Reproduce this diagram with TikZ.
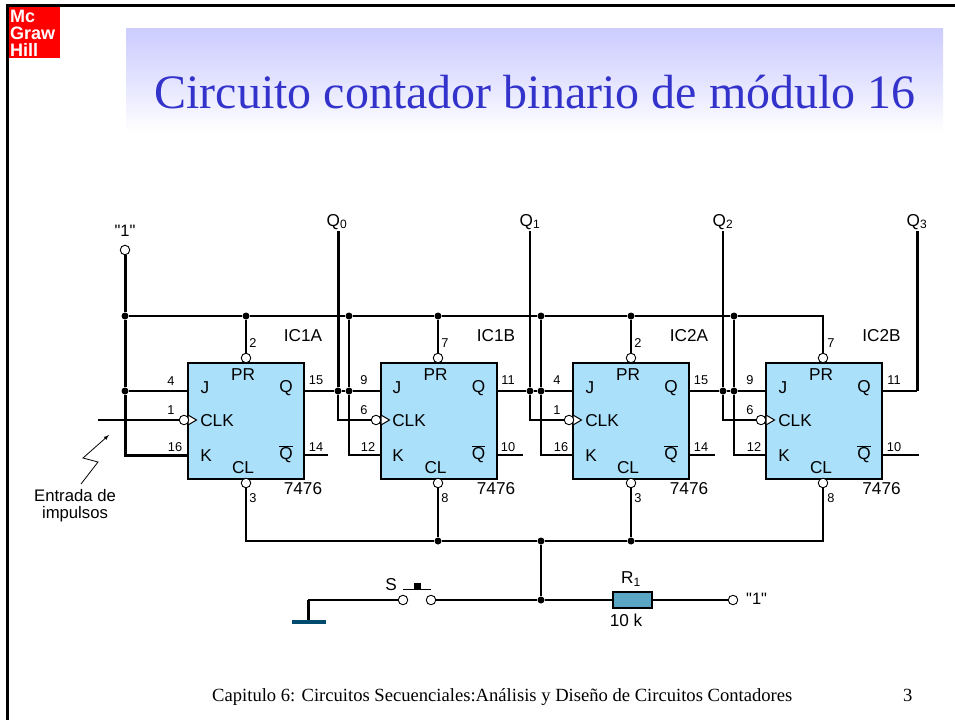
\documentclass[tikz,border=0pt]{standalone}
\usepackage{fontspec}
\setmainfont{Liberation Sans}
\newfontfamily\slidefont{Liberation Serif}
\newfontfamily\quotefont{Liberation Sans}
\newcommand{\pxfont}[1]{\fontsize{#1}{#1}\selectfont}
\definecolor{chipblue}{RGB}{170,224,250}
\definecolor{resblue}{RGB}{90,165,195}
\definecolor{gndblue}{RGB}{0,75,110}
\definecolor{bandblue}{RGB}{204,204,255}
\definecolor{titleblue}{RGB}{51,51,204}
\tikzset{
    chip/.style={draw, line width=2pt, fill=chipblue, minimum width=116pt, minimum height=116pt, inner sep=0pt, outer sep=0pt},
    wire/.style={line width=2pt},
    heavy/.style={line width=3pt},
    dot/.style={circle, fill=black, inner sep=0pt, minimum size=7pt},
    pinhole/.style={circle, draw, line width=.9pt, fill=white, inner sep=0pt, minimum size=9.5pt},
    lbl/.style={inner sep=0pt, font=\pxfont{17.2}},
    pinno/.style={inner sep=0pt, font=\pxfont{12.8}},
    clktip/.style={draw, line width=1pt, fill=white}
}
\begin{document}
\begin{tikzpicture}[x=1pt, y=-1pt]
    \useasboundingbox (0,0) rectangle (955,720);
    % slide frame, logo and title
    \fill [black] (6,4) rectangle (955,6.5);
    \fill [black] (6,4) rectangle (8.5,720);
    \fill [red] (9,6.5) rectangle (60,58);
    \node [inner sep=0pt, anchor=base west, white, font=\pxfont{18}\bfseries] (logomc) at (10,22) {Mc};
    \node [inner sep=0pt, anchor=base west, white, font=\pxfont{18}\bfseries] (logograw) at (10,39) {Graw};
    \node [inner sep=0pt, anchor=base west, white, font=\pxfont{18}\bfseries] (logohill) at (10,56) {Hill};
    \fill [top color=bandblue, bottom color=white, middle color=bandblue!55!white] (126,28) rectangle (943,132);
    \node [inner sep=0pt, titleblue, font=\slidefont\pxfont{48}] (title) at (535,92) {Circuito contador binario de módulo 16};
    \node [inner sep=0pt, anchor=base west, font=\slidefont\pxfont{18.6}] (footer) at (212,701) {Capitulo 6: Circuitos Secuenciales:Análisis y Diseño de Circuitos Contadores};
    \node [inner sep=0pt, anchor=base west, font=\slidefont\pxfont{18.6}] (pageno) at (903,701) {3};
    % flip-flops
    \node [chip] (ic1a) at (246,421) {};
    \node [chip] (ic1b) at (439,421) {};
    \node [chip] (ic2a) at (631,421) {};
    \node [chip] (ic2b) at (824,421) {};
    % clock tips
    \draw [clktip] (ic1a.west |- 0,415) -- (196.5,420) -- (ic1a.west |- 0,425) -- cycle;
    \draw [clktip] (ic1b.west |- 0,415) -- (389.5,420) -- (ic1b.west |- 0,425) -- cycle;
    \draw [clktip] (ic2a.west |- 0,415) -- (581.5,420) -- (ic2a.west |- 0,425) -- cycle;
    \draw [clktip] (ic2b.west |- 0,415) -- (774.5,420) -- (ic2b.west |- 0,425) -- cycle;
    % inverted pins
    \node [pinhole] (ic1apr) at (246,358) {};
    \node [pinhole] (ic1bpr) at (438,358) {};
    \node [pinhole] (ic2apr) at (631,358) {};
    \node [pinhole] (ic2bpr) at (823,358) {};
    \node [pinhole] (ic1acl) at (246,483) {};
    \node [pinhole] (ic1bcl) at (438,483) {};
    \node [pinhole] (ic2acl) at (631,483) {};
    \node [pinhole] (ic2bcl) at (823,483) {};
    \node [pinhole] (ic1aclk) at (184,420) {};
    \node [pinhole] (ic1bclk) at (376,420) {};
    \node [pinhole] (ic2aclk) at (569,420) {};
    \node [pinhole] (ic2bclk) at (761,420) {};
    % junctions
    \node [dot] (railone) at (125,316) {};
    \node [dot] (jone) at (125,391) {};
    \node [dot] (railpra) at (246,316) {};
    \node [dot] (railjb) at (349,316) {};
    \node [dot] (railprb) at (438,316) {};
    \node [dot] (railjc) at (541,316) {};
    \node [dot] (railprc) at (631,316) {};
    \node [dot] (railjd) at (734,316) {};
    \node [dot] (qzero) at (338,391) {};
    \node [dot] (jb) at (349,391) {};
    \node [dot] (qone) at (530,391) {};
    \node [dot] (jc) at (541,391) {};
    \node [dot] (qtwo) at (723,391) {};
    \node [dot] (jd) at (734,391) {};
    \node [dot] (clb) at (438,541) {};
    \node [dot] (clc) at (541,541) {};
    \node [dot] (cld) at (631,541) {};
    \node [dot] (swjoin) at (541,600) {};
    % free ends
    \coordinate (clkin) at (98,420);
    \coordinate (topzero) at (338,231);
    \coordinate (topone) at (530,231);
    \coordinate (toptwo) at (723,231);
    \coordinate (topthree) at (917,231);
    \coordinate (cornerthree) at (917,391);
    \coordinate (ic1ak) at (188,455);
    \coordinate (ic1bk) at (381,455);
    \coordinate (ic2ak) at (573,455);
    \coordinate (ic2bk) at (766,455);
    % rails
    \node [pinhole] (oneterm) at (125,250) {};
    \draw [heavy] (oneterm) -- (railone) -- (jone);
    \draw [heavy] (jone) |- (ic1ak);
    \draw [wire] (jone) -- (jone -| ic1a.west);
    \draw [wire] (railone) -- (railpra) -- (railjb) -- (railprb) -- (railjc) -- (railprc) -- (railjd);
    \draw [wire] (railjd) -| (ic2bpr);
    \draw [wire] (railpra) -- (ic1apr);
    \draw [wire] (railprb) -- (ic1bpr);
    \draw [wire] (railprc) -- (ic2apr);
    \draw [wire] (clkin) -- (ic1aclk);
    % first stage to second
    \draw [heavy] (topzero) -- (qzero);
    \draw [wire] (qzero) |- (ic1bclk);
    \draw [wire] (ic1a.east |- qzero) -- (qzero) -- (jb) -- (jb -| ic1b.west);
    \draw [wire] (railjb) -- (jb);
    \draw [wire] (jb) |- (ic1bk);
    \draw [wire] (ic1a.east |- ic1ak) -- (328,455);
    % second stage to third
    \draw [wire] (topone) -- (qone);
    \draw [wire] (qone) |- (ic2aclk);
    \draw [wire] (ic1b.east |- qone) -- (qone) -- (jc);
    \draw [line width=1.2pt] (jc) -- (jc -| ic2a.west);
    \draw [wire] (railjc) -- (jc);
    \draw [wire] (jc) |- (ic2ak);
    \draw [wire] (ic1b.east |- ic1bk) -- (523,455);
    % third stage to fourth
    \draw [wire] (toptwo) -- (qtwo);
    \draw [wire] (qtwo) |- (ic2bclk);
    \draw [wire] (ic2a.east |- qtwo) -- (qtwo) -- (jd) -- (jd -| ic2b.west);
    \draw [wire] (railjd) -- (jd);
    \draw [wire] (jd) |- (ic2bk);
    \draw [wire] (ic2a.east |- ic2ak) -- (715,455);
    % last stage outputs
    \draw [wire] (ic2b.east |- qtwo) -- (cornerthree);
    \draw [heavy] (cornerthree) -- (topthree);
    \draw [wire] (ic2b.east |- ic2bk) -- (919,455);
    % clear line
    \draw [wire] (ic1acl) |- (clb);
    \draw [wire] (clb) -- (clc) -- (cld);
    \draw [wire] (cld) -| (ic2bcl);
    \draw [wire] (ic1bcl) -- (clb);
    \draw [wire] (ic2acl) -- (cld);
    \draw [wire] (clc) -- (swjoin);
    % switch, resistor and ground
    \node [pinhole] (swleft) at (403,600) {};
    \node [pinhole] (swright) at (431,600) {};
    \node [pinhole] (restermin) at (733,600) {};
    \node [draw, line width=2pt, fill=resblue, minimum width=39pt, minimum height=16pt, inner sep=0pt, outer sep=0pt] (rone) at (632.5,600) {};
    \node [fill=gndblue, minimum width=34pt, minimum height=4pt, inner sep=0pt, outer sep=0pt] (gnd) at (309,622) {};
    \coordinate (gndtop) at (308,600);
    \draw [heavy] (gnd.north -| gndtop) -- (gndtop);
    \draw [wire] (gndtop) -- (swleft);
    \draw [wire] (swright) -- (swjoin) -- (rone) -- (restermin);
    \coordinate (pushl) at (403,589);
    \coordinate (pushr) at (431,589);
    \draw [line width=.9pt] (pushl) -- (pushr);
    \node [fill=black, minimum width=7pt, minimum height=6.5pt, inner sep=0pt] (pushcap) at (417.5,586) {};
    % chip labels
    \node [lbl] (ic1aname) at (303,336) {IC1A};
    \node [lbl] (ic1bname) at (496,336) {IC1B};
    \node [lbl] (ic2aname) at (689,336) {IC2A};
    \node [lbl] (ic2bname) at (881.5,336) {IC2B};
    \node [lbl] (ic1atype) at (303,489) {7476};
    \node [lbl] (ic1btype) at (496,489) {7476};
    \node [lbl] (ic2atype) at (689,489) {7476};
    \node [lbl] (ic2btype) at (881.5,489) {7476};
    % inside the chips
    \node [lbl] at (205,388) {J};
    \node [lbl] at (243,375) {PR};
    \node [lbl] at (286,388) {Q};
    \node [lbl] at (217,421) {CLK};
    \node [lbl] at (206,456) {K};
    \node [lbl] at (286,454) {$\overline{\mbox{Q}}$};
    \node [lbl] at (243,468) {CL};
    \node [lbl] at (397,388) {J};
    \node [lbl] at (435.5,375) {PR};
    \node [lbl] at (478.5,388) {Q};
    \node [lbl] at (409,421) {CLK};
    \node [lbl] at (398,456) {K};
    \node [lbl] at (478.5,454) {$\overline{\mbox{Q}}$};
    \node [lbl] at (435.5,468) {CL};
    \node [lbl] at (590,388) {J};
    \node [lbl] at (628,375) {PR};
    \node [lbl] at (671,388) {Q};
    \node [lbl] at (602,421) {CLK};
    \node [lbl] at (591,456) {K};
    \node [lbl] at (671,454) {$\overline{\mbox{Q}}$};
    \node [lbl] at (628,468) {CL};
    \node [lbl] at (783,388) {J};
    \node [lbl] at (821,375) {PR};
    \node [lbl] at (864,388) {Q};
    \node [lbl] at (795,421) {CLK};
    \node [lbl] at (784,456) {K};
    \node [lbl] at (864,454) {$\overline{\mbox{Q}}$};
    \node [lbl] at (821,468) {CL};
    % pin numbers
    \node [pinno] at (171,381) {4};
    \node [pinno] at (171,410) {1};
    \node [pinno] at (175,447) {16};
    \node [pinno] at (316,380) {15};
    \node [pinno] at (316,447) {14};
    \node [pinno] at (253,343) {2};
    \node [pinno] at (253,498) {3};
    \node [pinno] at (364,380) {9};
    \node [pinno] at (364,410) {6};
    \node [pinno] at (368,447) {12};
    \node [pinno] at (508,380) {11};
    \node [pinno] at (508,447) {10};
    \node [pinno] at (445,343) {7};
    \node [pinno] at (445,498) {8};
    \node [pinno] at (557,380) {4};
    \node [pinno] at (557,410) {1};
    \node [pinno] at (561,447) {16};
    \node [pinno] at (701,380) {15};
    \node [pinno] at (701,447) {14};
    \node [pinno] at (638,343) {2};
    \node [pinno] at (638,498) {3};
    \node [pinno] at (750,380) {9};
    \node [pinno] at (750,410) {6};
    \node [pinno] at (754,447) {12};
    \node [pinno] at (894,380) {11};
    \node [pinno] at (894,447) {10};
    \node [pinno] at (831,343) {7};
    \node [pinno] at (831,498) {8};
    % outside labels
    \node [lbl, font=\quotefont\pxfont{16.5}] (onelabel) at (125,231) {"1"};
    \node [lbl] (qzerolabel) at (337,222) {Q\textsubscript{0}};
    \node [lbl] (qonelabel) at (530,222) {Q\textsubscript{1}};
    \node [lbl] (qtwolabel) at (723,222) {Q\textsubscript{2}};
    \node [lbl] (qthreelabel) at (917,222) {Q\textsubscript{3}};
    \node [lbl, align=center, font=\pxfont{16.7}] (pulselabel) at (75,505.5) {Entrada de\\impulsos};
    \node [lbl] (slabel) at (391,585) {S};
    \node [lbl] (rlabel) at (631,579) {R\textsubscript{1}};
    \node [lbl] (rvalue) at (626,620) {10 k};
    \node [lbl, font=\quotefont\pxfont{16.5}, anchor=west] (restlabel) at (746,599) {"1"};
    % pulse pointer
    \coordinate (ptrstart) at (81,484);
    \coordinate (ptrend) at (109,435);
    \draw [line width=.8pt, -latex] (ptrstart) -- (98,462) -- (83,458) -- (ptrend);
\end{tikzpicture}
\end{document}
